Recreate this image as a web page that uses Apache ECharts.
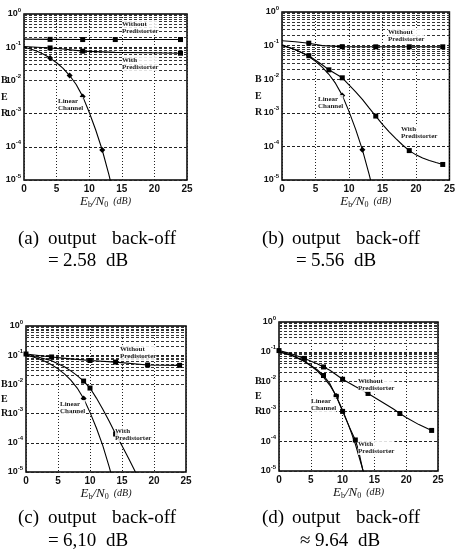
<!DOCTYPE html>
<html><head><meta charset="utf-8">
<script src="https://cdn.jsdelivr.net/npm/echarts@6/dist/echarts.min.js"></script>
<style>html,body{margin:0;padding:0;background:#fff}#c{width:458px;height:559px}</style>
</head><body><div id="c"></div>
<script>
// ---------- data ----------
const xMin = 0, xMax = 25, xStep = 5;
const yExpMin = -5, yExpMax = 0;

const linearX = [0,1,2,3,4,5,6,7,8,9,10,11,12,13,13.6];
const linearY = [0.1,0.088,0.075,0.061,0.047,0.034,0.023,0.014,0.0075,0.0033,0.0011,0.00032,0.00008,0.000015,0.000005];

// (a) output back-off = 2.58 dB
const aWithoutX = [0,4,9,14,19,24];
const aWithoutY = [0.175,0.172,0.17,0.17,0.17,0.17];
const aWithoutMk = [4,9,14,24];
const aWithX = [0,2,4,6,9,14,19,24];
const aWithY = [0.105,0.1,0.095,0.088,0.076,0.07,0.068,0.066];
const aWithMk = [4,9,24];
const aLinearMk = [4,7,9,12];

// (b) output back-off = 5.56 dB
const bWithoutX = [0,2,4,6,9,14,19,24];
const bWithoutY = [0.14,0.13,0.118,0.1,0.093,0.092,0.092,0.092];
const bWithoutMk = [4,9,14,19,24];
const bWithX = [0,2,4,6,7,8,9,10,11,12,13,14,15,16,17,18,19,20,21,22,23,24];
const bWithY = [0.105,0.075,0.05,0.027,0.019,0.0145,0.011,0.0068,0.0042,0.0025,0.0014,0.0008,0.00045,0.00027,0.00017,0.00011,0.000075,0.000056,0.000045,0.000038,0.000033,0.000029];
const bWithMk = [4,7,9,14,19,24];
const bLinearMk = [9,12];

// (c) output back-off = 6.10 dB
const cWithoutX = [0,4,7,10,14,19,24];
const cWithoutY = [0.11,0.087,0.075,0.066,0.058,0.046,0.045];
const cWithoutMk = [0,4,10,14,19,24];
const cWithX = [0,2,4,6,7,8,9,10,11,12,13,14,15,16,17,17.6];
const cWithY = [0.1,0.085,0.065,0.04,0.029,0.02,0.013,0.0075,0.0034,0.0014,0.00055,0.0002,0.00008,0.00003,0.000011,0.000005];
const cWithMk = [9,10,14];
const cLinearMk = [9];

// (d) output back-off = 9.64 dB
const dWithoutX = [0,2,4,6,7,8,10,12,14,16,18,19,20,22,24];
const dWithoutY = [0.11,0.085,0.06,0.04,0.031,0.024,0.012,0.0068,0.004,0.0022,0.0012,0.00085,0.00062,0.00036,0.00023];
const dWithoutMk = [0,4,7,10,14,19,24];
const dWithX = [0,2,4,6,7,8,9,10,11,12,12.5,13,13.4];
const dWithY = [0.1,0.076,0.048,0.025,0.016,0.0085,0.0032,0.001,0.00032,0.00011,0.00005,0.000016,0.000007];
const dWithMk = [7,9,10,12];
const dLinearMk = [9];

const captions1 = [['(a)','output','back-off'],['(b)','output','back-off'],['(c)','output','back-off'],['(d)','output','back-off']];
const captions2 = [['=','2.58','dB'],['=','5.56','dB'],['=','6,10','dB'],['\u2248','9.64','dB']];

// ---------- layout ----------
const grids = [
  {left:24, top:14, width:163, height:166},
  {left:282, top:12, width:170, height:168},
  {left:26, top:326, width:160, height:146},
  {left:279, top:322, width:159, height:149}
];
const cap1Pos = [[18,240],[262,240],[18,519],[262,519]];
const cap2Pos = [[48,262],[296,262],[48,542],[300,542]];
const berX = [1,255,1,255];
const annots = [
  [[122,20,'Without\nPredistorter'],[122,56,'With\nPredistorter'],[58,97,'Linear\nChannel']],
  [[388,28,'Without\nPredistorter'],[401,125,'With\nPredistorter'],[318,95,'Linear\nChannel']],
  [[120,345,'Without\nPredistorter'],[115,427,'With\nPredistorter'],[60,400,'Linear\nChannel']],
  [[358,377,'Without\nPredistorter'],[358,440,'With\nPredistorter'],[311,397,'Linear\nChannel']]
];

const curves = [
  [[aWithoutX,aWithoutY,aWithoutMk,'rect'],[aWithX,aWithY,aWithMk,'rect'],[linearX,linearY,aLinearMk,'diamond']],
  [[bWithoutX,bWithoutY,bWithoutMk,'rect'],[bWithX,bWithY,bWithMk,'rect'],[linearX,linearY,bLinearMk,'diamond']],
  [[cWithoutX,cWithoutY,cWithoutMk,'rect'],[cWithX,cWithY,cWithMk,'rect'],[linearX,linearY,cLinearMk,'diamond']],
  [[dWithoutX,dWithoutY,dWithoutMk,'rect'],[dWithX,dWithY,dWithMk,'rect'],[linearX,linearY,dLinearMk,'diamond']]
];

const minorVals = [];
for (let e = yExpMin; e < yExpMax; e++) for (let m = 2; m <= 9; m++) minorVals.push(m * Math.pow(10, e));

const chart = echarts.init(document.getElementById('c'), null, {renderer:'canvas'});
const option = {
  animation:false,
  backgroundColor:'#fff',
  grid: grids.map(g => Object.assign({show:true, borderColor:'#000', borderWidth:1.5, backgroundColor:'transparent', containLabel:false}, g)),
  xAxis: grids.map((g,i) => ({
    type:'value', gridIndex:i, min:xMin, max:xMax, interval:xStep,
    axisLine:{show:false}, axisTick:{show:false},
    splitLine:{show:true, lineStyle:{color:'#222', type:[1,2], width:1}},
    axisLabel:{color:'#111', fontSize:10, fontWeight:'bold', fontFamily:'Liberation Sans', margin:4},
    name:'{i|E}{s|b}{i|/N}{s|0}{n|  (dB)}', nameLocation:'middle', nameGap:10,
    nameTextStyle:{rich:{
      i:{fontFamily:'Liberation Serif', fontStyle:'italic', fontSize:13, lineHeight:16, verticalAlign:'middle', color:'#111'},
      s:{fontFamily:'Liberation Serif', fontSize:8, lineHeight:8, verticalAlign:'bottom', color:'#111'},
      n:{fontFamily:'Liberation Serif', fontStyle:'italic', fontSize:10, lineHeight:16, verticalAlign:'middle', color:'#111'}
    }}
  })),
  yAxis: grids.map((g,i) => ({
    type:'log', gridIndex:i, logBase:10, min:Math.pow(10,yExpMin), max:Math.pow(10,yExpMax), interval:1, splitNumber:5,
    axisLine:{show:false}, axisTick:{show:false},
    splitLine:{show:true, lineStyle:{color:'#222', type:[3,2], width:1}},
    axisLabel:{margin:3,
      formatter: v => '{b|10}{s|' + Math.round(Math.log10(v)) + '}',
      rich:{
        b:{fontFamily:'Liberation Sans', fontWeight:'bold', fontSize:9, lineHeight:14, verticalAlign:'middle', color:'#111'},
        s:{fontFamily:'Liberation Sans', fontWeight:'bold', fontSize:6, lineHeight:6, verticalAlign:'top', color:'#111'}
      }}
  })),
  series: [],
  graphic: []
};

curves.forEach((cs, gi) => {
  cs.forEach(([xs, ys, mk, sym], k) => {
    const s = {
      type:'line', xAxisIndex:gi, yAxisIndex:gi,
      data: xs.map((x, j) => [x, ys[j]]),
      symbol: sym, showSymbol:true, showAllSymbol:true,
      symbolSize: v => (mk.indexOf(v[0]) >= 0 ? (sym === 'diamond' ? 6 : 5) : 0),
      lineStyle:{color:'#000', width:1.1}, itemStyle:{color:'#000'},
      silent:true, clip:true, z:5
    };
    if (k === 2) {
      s.markLine = {silent:true, symbol:['none','none'], label:{show:false}, animation:false,
        lineStyle:{type:[3,2], color:'#333', width:1}, emphasis:{disabled:true},
        data: minorVals.map(v => ({yAxis:v}))};
    }
    option.series.push(s);
  });
});

const capFont = '19px "Liberation Serif"';
grids.forEach((g, i) => {
  const dec = g.height / (yExpMax - yExpMin);
  [['B',2],['E',2.5],['R',3]].forEach(([t, d]) => {
    option.graphic.push({type:'text', left:berX[i], top:g.top + d*dec - 5, z:10,
      style:{text:t, font:'bold 10px "Liberation Serif"', fill:'#111'}});
  });
  annots[i].forEach(([x, y, t]) => {
    option.graphic.push({type:'text', left:x, top:y, z:20,
      style:{text:t, font:'bold 7px "Liberation Serif"', fill:'#222', lineHeight:7.5, backgroundColor:'rgba(255,255,255,0.85)'}});
  });
  const w1 = captions1[i];
  const x1 = cap1Pos[i][0], y1 = cap1Pos[i][1] - 10;
  [[w1[0],0],[w1[1],30],[w1[2],94]].forEach(([t,dx]) => {
    option.graphic.push({type:'text', left:x1+dx, top:y1, z:10, style:{text:t, font:capFont, fill:'#000'}});
  });
  const w2 = captions2[i];
  const x2 = cap2Pos[i][0], y2 = cap2Pos[i][1] - 10;
  [[w2[0],0],[w2[1],15],[w2[2],58]].forEach(([t,dx]) => {
    option.graphic.push({type:'text', left:x2+dx, top:y2, z:10, style:{text:t, font:capFont, fill:'#000'}});
  });
});

chart.setOption(option);
</script>
</body></html>
